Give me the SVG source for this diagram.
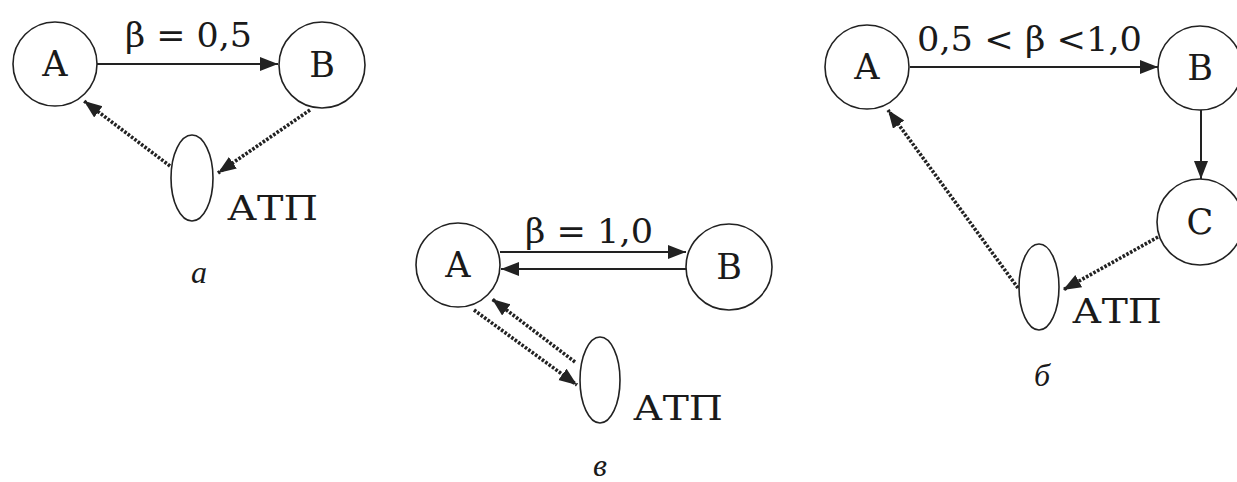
<svg xmlns="http://www.w3.org/2000/svg" width="1237" height="482" viewBox="0 0 1237 482">
<style>
.node{fill:#fff;stroke:#222;stroke-width:1.6}
.lbl{font-family:"DejaVu Serif","Liberation Serif",serif;font-size:35px;fill:#1a1a1a;text-anchor:middle}
.eq{font-family:"DejaVu Serif","Liberation Serif",serif;font-size:33px;fill:#1a1a1a}
.cap{font-family:"Liberation Serif","DejaVu Serif",serif;font-size:32px;font-style:italic;fill:#1a1a1a;text-anchor:middle}
.solid{fill:none;stroke:#222;stroke-width:2}
.dot{fill:none;stroke:#222;stroke-width:3.6;stroke-dasharray:2.6 1.6}
</style>
<defs>
<marker id="ah" markerUnits="userSpaceOnUse" markerWidth="20" markerHeight="16" refX="18" refY="7" orient="auto">
<path d="M0,0 L18,7 L0,14 z" fill="#222"/>
</marker>
</defs>
<rect width="1237" height="482" fill="#fff"/>
<g id="connectors">
<line class="solid" x1="97" y1="64" x2="278" y2="64" marker-end="url(#ah)"/>
<line class="dot" x1="170" y1="166" x2="84" y2="101" marker-end="url(#ah)"/>
<line class="dot" x1="310" y1="110" x2="218" y2="173" marker-end="url(#ah)"/>
<line class="solid" x1="500" y1="252" x2="686" y2="252" marker-end="url(#ah)"/>
<line class="solid" x1="686" y1="269" x2="501" y2="269" marker-end="url(#ah)"/>
<line class="dot" x1="575" y1="362" x2="492" y2="299" marker-end="url(#ah)"/>
<line class="dot" x1="474" y1="310" x2="577" y2="385" marker-end="url(#ah)"/>
<line class="solid" x1="910" y1="67" x2="1158" y2="67" marker-end="url(#ah)"/>
<line class="solid" x1="1201" y1="110" x2="1201" y2="179" marker-end="url(#ah)"/>
<line class="dot" x1="1158" y1="237" x2="1063" y2="290" marker-end="url(#ah)"/>
<line class="dot" x1="1018" y1="288" x2="888" y2="110" marker-end="url(#ah)"/>
</g>
<g id="labels">
<text class="eq" x="125" y="47" textLength="127" lengthAdjust="spacingAndGlyphs">β = 0,5</text>
<text class="eq" x="525" y="243" textLength="128" lengthAdjust="spacingAndGlyphs">β = 1,0</text>
<text class="eq" x="917" y="51" textLength="225" lengthAdjust="spacingAndGlyphs">0,5 &lt; β &lt;1,0</text>
<text class="cap" x="199" y="283">a</text>
<text class="cap" x="600" y="476">в</text>
<text class="cap" x="1042" y="386">б</text>
</g>
<g id="a-A"><circle class="node" cx="55" cy="64" r="42"/><text class="lbl" x="55" y="76">A</text></g>
<g id="a-B"><circle class="node" cx="322" cy="65" r="43"/><text class="lbl" x="322" y="77">B</text></g>
<g id="a-ATP"><ellipse class="node" cx="192" cy="178" rx="21" ry="43"/><text class="eq" x="227" y="220" textLength="91" lengthAdjust="spacingAndGlyphs">АТП</text></g>
<g id="v-A"><circle class="node" cx="458" cy="265" r="42"/><text class="lbl" x="458" y="277">A</text></g>
<g id="v-B"><circle class="node" cx="729" cy="267" r="43"/><text class="lbl" x="729" y="279">B</text></g>
<g id="v-ATP"><ellipse class="node" cx="600" cy="380" rx="20" ry="43"/><text class="eq" x="633" y="420" textLength="90" lengthAdjust="spacingAndGlyphs">АТП</text></g>
<g id="b-A"><circle class="node" cx="867" cy="67" r="42"/><text class="lbl" x="867" y="79">A</text></g>
<g id="b-B"><circle class="node" cx="1200" cy="68" r="42"/><text class="lbl" x="1200" y="80">B</text></g>
<g id="b-C"><circle class="node" cx="1200" cy="222" r="43"/><text class="lbl" x="1200" y="234">C</text></g>
<g id="b-ATP"><ellipse class="node" cx="1039" cy="287" rx="20" ry="43"/><text class="eq" x="1072" y="323" textLength="90" lengthAdjust="spacingAndGlyphs">АТП</text></g>
</svg>
